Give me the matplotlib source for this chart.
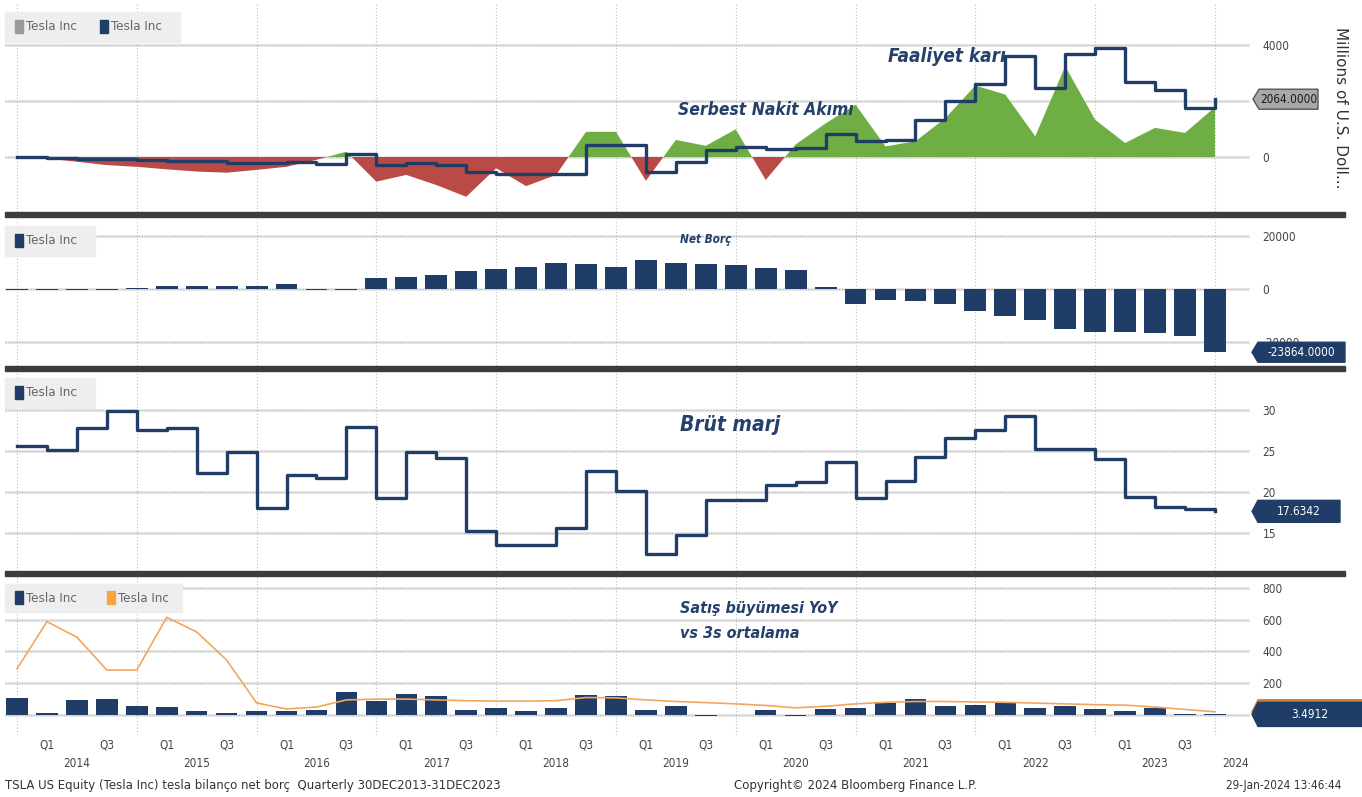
import numpy as np
import matplotlib
matplotlib.use("Agg")
import matplotlib.pyplot as plt
from matplotlib import font_manager
from matplotlib.font_manager import FontProperties
from matplotlib.patches import Rectangle, Polygon

# quarterly, 30DEC2013 .. 31DEC2023 (index 0 = Q4 2013)
years = list(range(2014, 2025))
quarters = ["Q4 2013"] + [f"Q{q} {y}" for y in range(2014, 2024) for q in (1, 2, 3, 4)]

# Faaliyet kari (operating income, mn USD)
op_income = [-13, -41, -56, -74, -108, -154, -160, -216, -200, -194, -250, 97, -300, -230, -280, -545,
             -597, -597, -622, 416, 414, -522, -167, 261, 359, 283, 327, 809, 575, 594, 1312, 2004,
             2613, 3603, 2464, 3688, 3901, 2664, 2399, 1764, 2064]
# Serbest nakit akimi (free cash flow, mn USD)
fcf = [-30, -50, -170, -290, -350, -440, -520, -560, -460, -350, -100, 190, -880, -640, -1000, -1420,
       -400, -1040, -640, 900, 900, -850, 610, 400, 990, -820, 450, 1200, 1870, 380, 560, 1390,
       2550, 2230, 740, 3240, 1330, 500, 1040, 860, 1780]
# Net borc (net debt, mn USD)
net_debt = [-300, -300, -300, -300, 500, 1000, 1300, 1300, 1300, 2000, -200, -200, 4100, 4600, 5200, 6900,
            7600, 8400, 9900, 9400, 8400, 11000, 9900, 9400, 9200, 7900, 7000, 600, -5500, -4200, -4600, -5500,
            -8400, -10300, -11800, -15000, -16300, -16300, -16700, -17600, -23864]
# Brut marj (gross margin, %)
gross_margin = [25.6, 25.1, 27.8, 29.8, 27.5, 27.8, 22.3, 24.8, 18.1, 22.1, 21.7, 27.9, 19.3, 24.9, 24.1, 15.2,
                13.5, 13.5, 15.6, 22.5, 20.1, 12.5, 14.8, 19.0, 19.0, 20.8, 21.2, 23.6, 19.2, 21.3, 24.3, 26.6,
                27.5, 29.3, 25.2, 25.2, 24.0, 19.4, 18.2, 17.9, 17.6342]
# Satis buyumesi YoY (%) and 3s ortalama
sales_yoy = [107, 12, 93, 103, 56, 51, 24, 10, 27, 22, 33, 145, 88, 135, 120, 30,
             44, 26, 43, 129, 120, 33, 59, -8, 2, 32, -5, 39, 46, 74, 98, 57,
             65, 81, 42, 56, 37, 24, 47, 9, 3.4912]
sales_avg = [290, 588, 490, 283, 283, 615, 523, 346, 76, 38, 50, 95, 100, 100, 95, 90,
             88, 88, 90, 110, 108, 95, 85, 78, 70, 60, 45, 55, 70, 80, 85, 85,
             82, 80, 75, 70, 65, 62, 50, 35, 20]

names = {f.name for f in font_manager.fontManager.ttflist}
NARROW = "Liberation Sans Narrow" if "Liberation Sans Narrow" in names else "DejaVu Sans"
cond_file = font_manager.findfont(FontProperties(family="DejaVu Sans", stretch="condensed", weight="bold",
                                                 style="italic"))
COND = "Condensed" in cond_file
STRETCH = "condensed" if COND else "normal"
# title sizes shrink a bit when no condensed face is around
TS = 1.0 if COND else 0.85

NAVY = "#1f3d66"
TXT = "#25406a"
GREEN = "#6fae45"
RED = "#b94a46"
ORANGE = "#f4a55c"

W, H = 1362, 797
fig = plt.figure(figsize=(W / 100, H / 100), dpi=100)
fig.patch.set_facecolor("white")


def fx(px):
    return px / W


def fy(py):
    return 1 - py / H


x = np.arange(len(quarters))


def make_panel(top, bottom, ylim, ticks, labels):
    ax = fig.add_axes([fx(5), fy(bottom), (1250 - 5) / W, (bottom - top) / H])
    ax.set_xlim(-0.40, 41.17)
    ax.set_ylim(*ylim)
    for s in ax.spines.values():
        s.set_visible(False)
    ax.set_xticks([])
    ax.yaxis.tick_right()
    ax.set_yticks(ticks)
    ax.set_yticklabels(labels, fontfamily=NARROW, fontstretch=STRETCH)
    ax.tick_params(axis="y", length=0, pad=9, labelsize=8.5, labelcolor="#444444")
    for t in ticks:
        ax.axhline(t, color="#e8e8e8", lw=2.2, zorder=0)
        ax.axhline(t, color="#b5b5b5", lw=0.8, ls=(0, (1, 1.5)), zorder=0)
    for i in range(0, 41, 4):
        ax.axvline(i, color="#bdbdbd", lw=0.8, ls=(0, (1, 2)), zorder=0)
    return ax


def title(px, py, s, size):
    fig.text(fx(px), fy(py), s, fontsize=size * TS, fontweight="bold", style="italic", color=TXT,
             fontfamily=NARROW, fontstretch=STRETCH, va="center")


def legend_box(x0, y0, x1, y1, items):
    fig.patches.append(Rectangle((fx(x0), fy(y1)), (x1 - x0) / W, (y1 - y0) / H,
                                 transform=fig.transFigure, color="#eeeeee", zorder=2))
    for xs, col in items:
        yc = (y0 + y1) / 2
        fig.patches.append(Rectangle((fx(xs), fy(yc + 6)), 8 / W, 13 / H,
                                     transform=fig.transFigure, color=col, zorder=3))
        fig.text(fx(xs + 11), fy(yc), "Tesla Inc", fontsize=9.5, color="#666666",
                 fontfamily=NARROW, fontstretch=STRETCH, va="center", ha="left", zorder=4)


def tag(ax, v, text, fc, tc, x1, h=22, ec=None, x0=1252):
    py = H - ax.transData.transform((0, v))[1]
    pts = [(x0, py), (x0 + 6, py - h / 2), (x1, py - h / 2), (x1, py + h / 2), (x0 + 6, py + h / 2)]
    fig.patches.append(Polygon([(fx(a), fy(b)) for a, b in pts], closed=True, transform=fig.transFigure,
                               facecolor=fc, edgecolor=ec if ec else fc, lw=1, zorder=5))
    if text:
        fig.text(fx((x0 + 6 + x1) / 2), fy(py), text, fontsize=8.5, color=tc, fontfamily=NARROW,
                 fontstretch=STRETCH, ha="center", va="center", zorder=6)


# panel 1: operating income + free cash flow
ax1 = make_panel(3, 212, (-1964, 5500), [0, 2000, 4000], ["0", "", "4000"])
fcf_a = np.array(fcf, dtype=float)
ax1.fill_between(x, fcf_a, 0, where=fcf_a >= 0, interpolate=True, color=GREEN, lw=0, zorder=2)
ax1.fill_between(x, fcf_a, 0, where=fcf_a < 0, interpolate=True, color=RED, lw=0, zorder=2)
ax1.step(x, op_income, where="post", color=NAVY, lw=2.4, zorder=3)
title(888, 56, "Faaliyet karı", 13.6)
title(678, 110, "Serbest Nakit Akımı", 12.5)
fig.text(fx(1340), fy(108), "Millions of U.S. Doll...", fontsize=11, color="#333333",
         rotation=-90, ha="center", va="center")
legend_box(5, 12, 180, 42, [(15, "#9a9a9a"), (100, NAVY)])
tag(ax1, op_income[-1], f"{op_income[-1]:.4f}", "#a8a8a8", "#1a1a1a", 1318, h=20, ec="#555555", x0=1253)

# panel 2: net debt
ax2 = make_panel(219, 366, (-29060, 26400), [-20000, 0, 20000], ["-20000", "0", "20000"])
ax2.bar(x, net_debt, width=0.73, color=NAVY, zorder=2)
title(680, 240, "Net Borç", 8.5)
legend_box(5, 226, 95, 256, [(15, NAVY)])
tag(ax2, net_debt[-1], f"{net_debt[-1]:.4f}", NAVY, "white", 1345, h=20)

# panel 3: gross margin
ax3 = make_panel(372, 571, (10.37, 34.6), [15, 20, 25, 30], ["15", "20", "25", "30"])
ax3.step(x, gross_margin, where="post", color=NAVY, lw=2.4, zorder=3)
title(680, 425, "Brüt marj", 15)
legend_box(5, 378, 95, 408, [(15, NAVY)])
tag(ax3, gross_margin[-1], f"{gross_margin[-1]:.4f}", NAVY, "white", 1340)

# panel 4: sales growth
ax4 = make_panel(577, 735, (-126, 869), [0, 200, 400, 600, 800], ["0", "200", "400", "600", "800"])
ax4.bar(x, sales_yoy, width=0.72, color=NAVY, zorder=2)
ax4.plot(x, sales_avg, color=ORANGE, lw=1.2, zorder=3)
title(680, 608, "Satış büyümesi YoY", 11.5)
title(680, 634, "vs 3s ortalama", 11.5)
legend_box(5, 584, 182, 612, [(15, NAVY), (107, "#f7a541")])
tag(ax4, sales_avg[-1], "", "#c87a2e", "white", 1362, h=24)
tag(ax4, sales_yoy[-1], f"{sales_yoy[-1]:.4f}", NAVY, "white", 1362, h=24)

# x axis labels
xt = ax4.get_xaxis_transform()
for i in range(1, 41):
    if i % 4 in (1, 3):
        ax4.text(i, -0.065, "Q1" if i % 4 == 1 else "Q3", transform=xt, ha="center", va="center",
                 fontsize=8.5, color="#444444", fontfamily=NARROW, fontstretch=STRETCH, clip_on=False)
for k, yr in enumerate(years):
    xpos = 4 * k + 2 if yr < 2024 else 40.7
    ax4.text(xpos, -0.178, str(yr), transform=xt, ha="center", va="center",
             fontsize=8.5, color="#444444", fontfamily=NARROW, fontstretch=STRETCH, clip_on=False)

# separators
for top in (212, 366, 571):
    fig.patches.append(Rectangle((fx(5), fy(top + 5)), (1345 - 5) / W, 5 / H,
                                 transform=fig.transFigure, color="#3c3c3c", zorder=4))

# footer
foot = dict(fontsize=8.5, color="#333333", fontfamily=NARROW, va="center")
fig.text(fx(5), fy(785), "TSLA US Equity (Tesla Inc) tesla bilanço net borç  Quarterly 30DEC2013-31DEC2023",
         ha="left", **foot)
fig.text(fx(856), fy(785), "Copyright© 2024 Bloomberg Finance L.P.", ha="center", **foot)
fig.text(fx(1342), fy(785), "29-Jan-2024 13:46:44", ha="right", fontstretch=STRETCH,
         **{k: v for k, v in foot.items()})

fig.savefig("out.png", dpi=100, facecolor="white")
